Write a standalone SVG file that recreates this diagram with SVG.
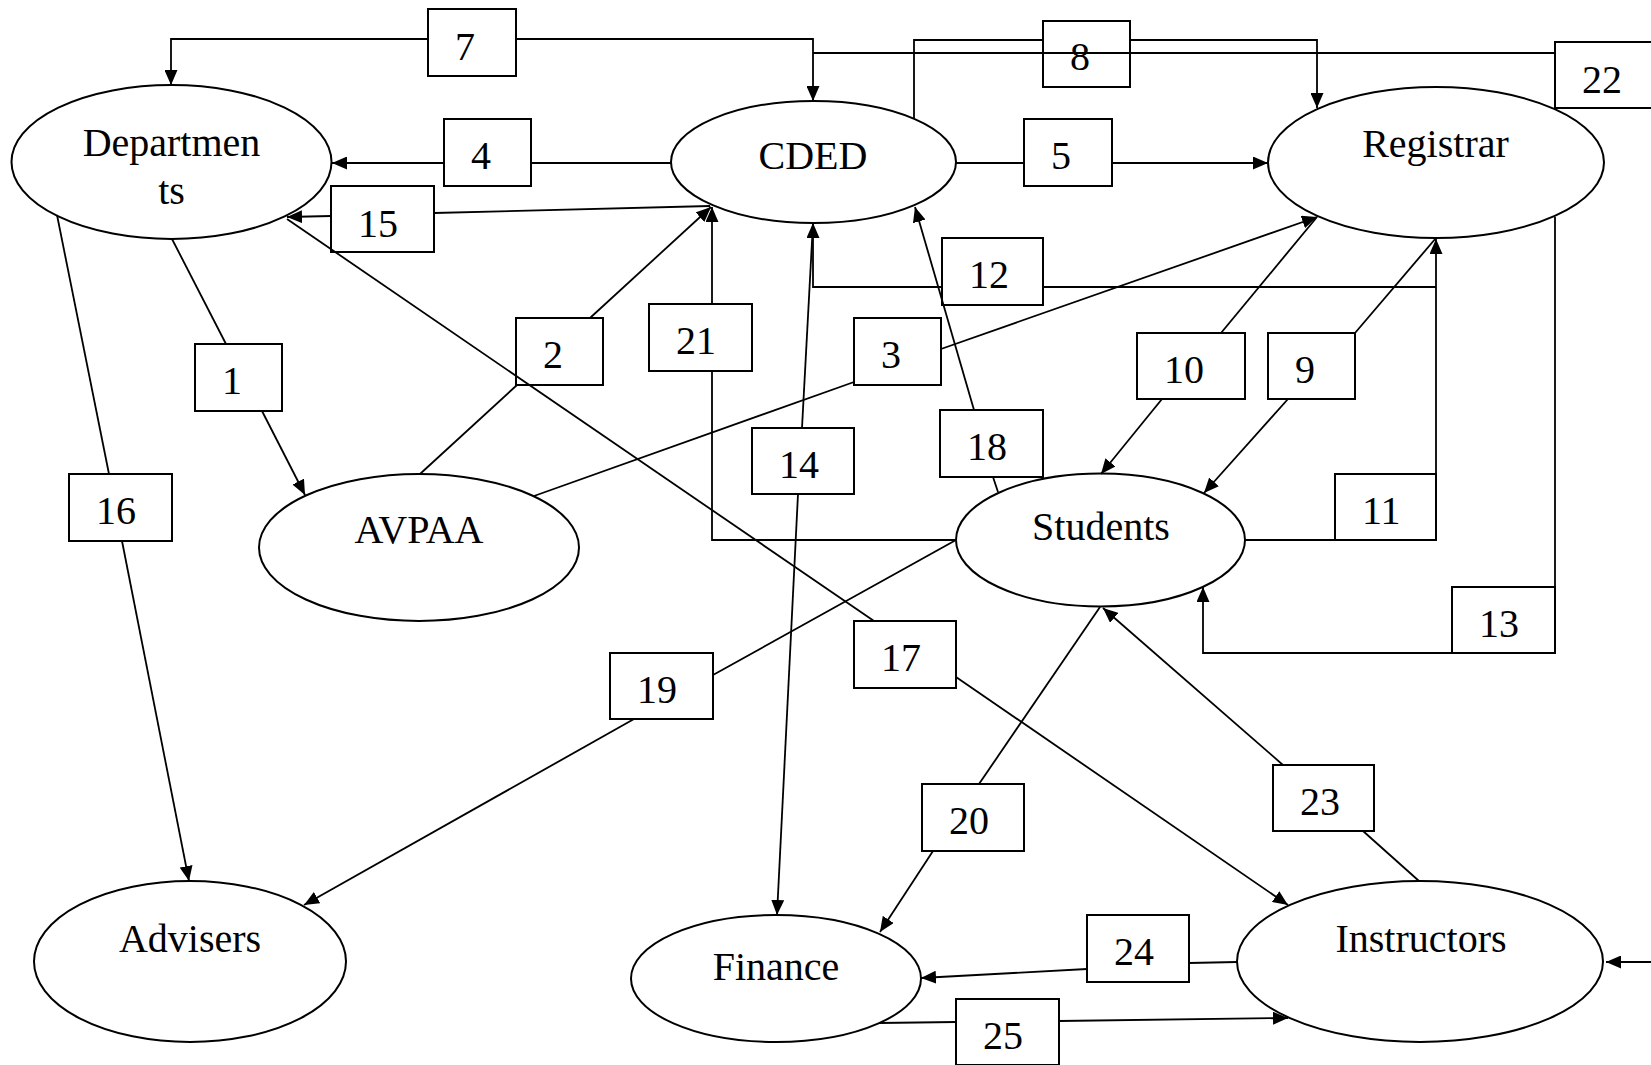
<svg xmlns="http://www.w3.org/2000/svg" width="1651" height="1065" viewBox="0 0 1651 1065">
<style>
.node ellipse{fill:#fff;stroke:#000;stroke-width:2}
.lbl rect{fill:#fff;stroke:#000;stroke-width:2}
text{font-family:"Liberation Serif","Times New Roman",serif;font-size:40px;fill:#000}
.name{text-anchor:middle}
#connectors path{fill:none;stroke:#000;stroke-width:1.8}
.arr{marker-end:url(#ah)}
</style>
<defs>
<marker id="ah" markerWidth="15" markerHeight="13" refX="15" refY="6.5" orient="auto" markerUnits="userSpaceOnUse">
<path d="M0,0 L15,6.5 L0,13 z" fill="#000"/>
</marker>
</defs>
<rect width="1651" height="1065" fill="#fff"/>

<g id="nodes">
<g id="departments" class="node"><ellipse cx="171.5" cy="162" rx="160" ry="77"/><text class="name" x="171.5" y="156">Departmen</text><text class="name" x="171.5" y="204">ts</text></g>
<g id="cded" class="node"><ellipse cx="813.5" cy="162" rx="142.5" ry="61"/><text class="name" x="813" y="169">CDED</text></g>
<g id="registrar" class="node"><ellipse cx="1436" cy="162.5" rx="168" ry="75.5"/><text class="name" x="1435.5" y="157">Registrar</text></g>
<g id="avpaa" class="node"><ellipse cx="419" cy="547.5" rx="160" ry="73.5"/><text class="name" x="419" y="543">AVPAA</text></g>
<g id="students" class="node"><ellipse cx="1100.5" cy="540" rx="144.5" ry="66.5"/><text class="name" x="1101" y="540">Students</text></g>
<g id="advisers" class="node"><ellipse cx="190" cy="961.5" rx="156" ry="80.5"/><text class="name" x="190" y="952">Advisers</text></g>
<g id="finance" class="node"><ellipse cx="776" cy="978.5" rx="145" ry="63.5"/><text class="name" x="776" y="980">Finance</text></g>
<g id="instructors" class="node"><ellipse cx="1420" cy="961.5" rx="183" ry="80.5"/><text class="name" x="1421" y="952">Instructors</text></g>
</g>

<g id="labels">
<g id="label-1" class="lbl"><rect x="195" y="344" width="87" height="67"/><text x="222" y="394">1</text></g>
<g id="label-2" class="lbl"><rect x="516" y="318" width="87" height="67"/><text x="543" y="368">2</text></g>
<g id="label-3" class="lbl"><rect x="854" y="318" width="87" height="67"/><text x="881" y="368">3</text></g>
<g id="label-4" class="lbl"><rect x="444" y="119" width="87" height="67"/><text x="471" y="169">4</text></g>
<g id="label-5" class="lbl"><rect x="1024" y="119" width="88" height="67"/><text x="1051" y="169">5</text></g>
<g id="label-7" class="lbl"><rect x="428" y="9" width="88" height="67"/><text x="455" y="60">7</text></g>
<g id="label-8" class="lbl"><rect x="1043" y="21" width="87" height="66"/><text x="1070" y="70">8</text></g>
<g id="label-9" class="lbl"><rect x="1268" y="333" width="87" height="66"/><text x="1295" y="383">9</text></g>
<g id="label-10" class="lbl"><rect x="1137" y="333" width="108" height="66"/><text x="1164" y="383">10</text></g>
<g id="label-11" class="lbl"><rect x="1335" y="474" width="101" height="66"/><text x="1362" y="524">11</text></g>
<g id="label-12" class="lbl"><rect x="942" y="238" width="101" height="67"/><text x="969" y="288">12</text></g>
<g id="label-13" class="lbl"><rect x="1452" y="587" width="103" height="66"/><text x="1479" y="637">13</text></g>
<g id="label-14" class="lbl"><rect x="752" y="428" width="102" height="66"/><text x="779" y="478">14</text></g>
<g id="label-15" class="lbl"><rect x="331" y="186" width="103" height="66"/><text x="358" y="237">15</text></g>
<g id="label-16" class="lbl"><rect x="69" y="474" width="103" height="67"/><text x="96" y="524">16</text></g>
<g id="label-17" class="lbl"><rect x="854" y="621" width="102" height="67"/><text x="881" y="671">17</text></g>
<g id="label-18" class="lbl"><rect x="940" y="410" width="103" height="67"/><text x="967" y="460">18</text></g>
<g id="label-19" class="lbl"><rect x="610" y="653" width="103" height="66"/><text x="637" y="703">19</text></g>
<g id="label-20" class="lbl"><rect x="922" y="784" width="102" height="67"/><text x="949" y="834">20</text></g>
<g id="label-21" class="lbl"><rect x="649" y="304" width="103" height="67"/><text x="676" y="354">21</text></g>
<g id="label-22" class="lbl"><rect x="1555" y="42" width="110" height="66"/><text x="1582" y="93">22</text></g>
<g id="label-23" class="lbl"><rect x="1273" y="765" width="101" height="66"/><text x="1300" y="815">23</text></g>
<g id="label-24" class="lbl"><rect x="1087" y="915" width="102" height="67"/><text x="1114" y="965">24</text></g>
<g id="label-25" class="lbl"><rect x="956" y="999" width="103" height="66"/><text x="983" y="1049">25</text></g>
</g>

<g id="connectors">
<path d="M172,239 L226,344"/><path class="arr" d="M262,411 L305,495"/>
<path d="M420,474 L517,385"/><path class="arr" d="M590,318 L711,207"/>
<path d="M534,496 L854,382"/><path class="arr" d="M941,349 L1317,217"/>
<path d="M671,163 H531"/><path class="arr" d="M444,163 H332"/>
<path d="M956,163 H1024"/><path class="arr" d="M1112,163 H1268"/>
<path d="M428,39 H171 V85" class="arr"/><path class="arr" d="M516,39 H813 V101"/>
<path d="M914,118 V40 H1043"/><path class="arr" d="M1130,40 H1317 V108"/>
<path d="M1355,333 L1436,238"/><path class="arr" d="M1288,399 L1204,493"/>
<path d="M1317,217 L1221,333"/><path class="arr" d="M1162,399 L1101,474"/>
<path class="arr" d="M1245,540 H1436 V239"/>
<path d="M1436,287 H1043"/><path class="arr" d="M942,287 H813 V223"/>
<path class="arr" d="M1555,217 V653 H1203 V587"/>
<path d="M802,428 L813,223"/><path class="arr" d="M798,494 L777,915"/>
<path d="M710,206 L434,213"/><path class="arr" d="M331,216 L287,217"/>
<path d="M57,215 L109,474"/><path class="arr" d="M122,541 L189,881"/>
<path d="M287,219 L874,621"/><path class="arr" d="M956,677 L1288,905"/>
<path d="M998,492 L993,477"/><path class="arr" d="M974,410 L915,207"/>
<path d="M956,540 L713,675"/><path class="arr" d="M634,719 L304,905"/>
<path d="M1100,607 L979,784"/><path class="arr" d="M933,851 L880,932"/>
<path d="M956,540 H712 V371"/><path class="arr" d="M712,304 V207"/>
<path d="M813,53 H1555"/><path class="arr" d="M1651,962 H1606"/>
<path d="M1419,881 L1363,831"/><path class="arr" d="M1283,765 L1103,608"/>
<path d="M1237,962 L1189,963"/><path class="arr" d="M1087,969 L921,978"/>
<path d="M879,1023 L956,1022"/><path class="arr" d="M1059,1021 L1288,1018"/>
</g>
</svg>
